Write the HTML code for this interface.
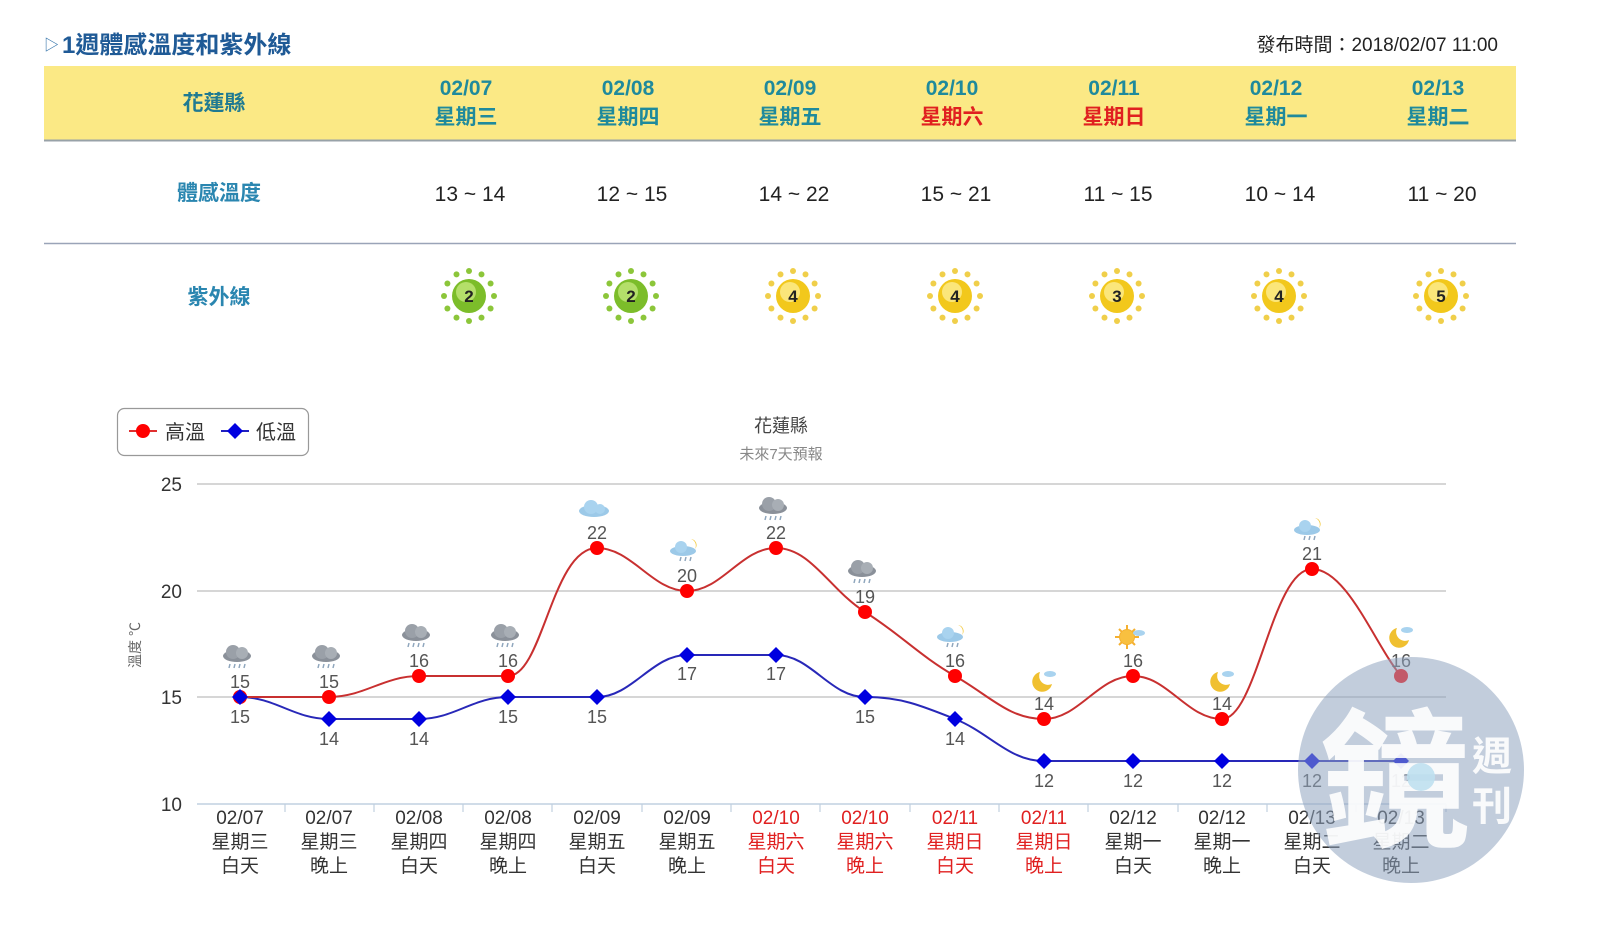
<!DOCTYPE html>
<html><head><meta charset="utf-8">
<style>
html,body{margin:0;padding:0;background:#fff;}
body{width:1600px;height:929px;overflow:hidden;font-family:"Liberation Sans","Noto Sans CJK TC",sans-serif;}
</style></head>
<body>
<svg width="1600" height="929" viewBox="0 0 1600 929" xmlns="http://www.w3.org/2000/svg" font-family="Liberation Sans, Noto Sans CJK TC, sans-serif">
<defs>
  <g id="rays">
    <circle cx="0" cy="-25" r="3"/><circle cx="12.5" cy="-21.6" r="3"/><circle cx="21.6" cy="-12.5" r="3"/>
    <circle cx="25" cy="0" r="3"/><circle cx="21.6" cy="12.5" r="3"/><circle cx="12.5" cy="21.6" r="3"/>
    <circle cx="0" cy="25" r="3"/><circle cx="-12.5" cy="21.6" r="3"/><circle cx="-21.6" cy="12.5" r="3"/>
    <circle cx="-25" cy="0" r="3"/><circle cx="-21.6" cy="-12.5" r="3"/><circle cx="-12.5" cy="-21.6" r="3"/>
  </g>
  <g id="rain">
    <ellipse cx="0" cy="-2" rx="14" ry="6" fill="#8a9099"/>
    <circle cx="-4" cy="-6" r="7" fill="#9aa0a8"/><circle cx="5" cy="-5" r="6" fill="#a8aeb5"/>
    <g stroke="#8fa6bd" stroke-width="1.5"><line x1="-7" y1="6" x2="-8" y2="10"/><line x1="-2" y1="6" x2="-3" y2="10"/><line x1="3" y1="6" x2="2" y2="10"/><line x1="8" y1="6" x2="7" y2="10"/></g>
  </g>
  <g id="cloud">
    <ellipse cx="0" cy="0" rx="15" ry="6" fill="#9cc9e8"/>
    <circle cx="-3" cy="-4" r="7" fill="#a9d3ef"/><circle cx="6" cy="-2" r="5" fill="#a9d3ef"/>
  </g>
  <g id="cloudrain">
    <ellipse cx="-2" cy="0" rx="13" ry="5" fill="#9cc9e8"/>
    <circle cx="-4" cy="-4" r="6" fill="#a9d3ef"/><path d="M6 -12 a6 6 0 0 1 4 10 a7 7 0 0 0 -4 -10z" fill="#f3c83a"/>
    <g stroke="#8fa6bd" stroke-width="1.5"><line x1="-4" y1="6" x2="-5" y2="10"/><line x1="1" y1="6" x2="0" y2="10"/><line x1="6" y1="6" x2="5" y2="10"/></g>
  </g>
  <g id="moon">
    <path d="M-4 -10 a10 10 0 1 0 12 12 a9 9 0 0 1 -12 -12z" fill="#f0c030"/>
    <ellipse cx="6" cy="-8" rx="6" ry="3" fill="#a9d3ef"/>
  </g>
  <g id="suncloud">
    <circle cx="-3" cy="0" r="8" fill="#f4b030"/>
    <g stroke="#f4b030" stroke-width="2"><line x1="-3" y1="-12" x2="-3" y2="12"/><line x1="-15" y1="0" x2="9" y2="0"/><line x1="-11" y1="-8" x2="5" y2="8"/><line x1="-11" y1="8" x2="5" y2="-8"/></g>
    <circle cx="-3" cy="0" r="7" fill="#f8c040"/>
    <ellipse cx="9" cy="-4" rx="6" ry="3" fill="#a9d3ef"/>
  </g>
</defs>

<!-- Header -->
<text x="44" y="50" font-size="15" fill="#2e6fa7">▷</text>
<text x="62" y="53" font-size="24" font-weight="bold" fill="#1f5a96">1週體感溫度和紫外線</text>
<text x="1498" y="51" font-size="19" fill="#222" text-anchor="end">發布時間：2018/02/07 11:00</text>

<!-- Table -->
<rect x="44" y="66" width="1472" height="74" fill="#fbe985"/>
<line x1="44" y1="140.5" x2="1516" y2="140.5" stroke="#98a2a8" stroke-width="2"/>
<line x1="44" y1="243.5" x2="1516" y2="243.5" stroke="#9aa4b8" stroke-width="1.5"/>
<g font-weight="bold" text-anchor="middle" font-size="21">
  <text x="214" y="110" fill="#1f7a92">花蓮縣</text>
  <g fill="#1f8a9c">
    <text x="466" y="95">02/07</text><text x="466" y="124">星期三</text>
    <text x="628" y="95">02/08</text><text x="628" y="124">星期四</text>
    <text x="790" y="95">02/09</text><text x="790" y="124">星期五</text>
    <text x="1276" y="95">02/12</text><text x="1276" y="124">星期一</text>
    <text x="1438" y="95">02/13</text><text x="1438" y="124">星期二</text>
  </g>
  <g>
    <text x="952" y="95" fill="#1f8a9c">02/10</text><text x="952" y="124" fill="#e02020">星期六</text>
    <text x="1114" y="95" fill="#1f8a9c">02/11</text><text x="1114" y="124" fill="#e02020">星期日</text>
  </g>
  <text x="219" y="200" fill="#2a86b0">體感溫度</text>
  <text x="219" y="304" fill="#2a86b0">紫外線</text>
</g>
<g font-size="21" fill="#222" text-anchor="middle">
  <text x="470" y="201">13 ~ 14</text><text x="632" y="201">12 ~ 15</text><text x="794" y="201">14 ~ 22</text>
  <text x="956" y="201">15 ~ 21</text><text x="1118" y="201">11 ~ 15</text><text x="1280" y="201">10 ~ 14</text>
  <text x="1442" y="201">11 ~ 20</text>
</g>
<!-- UV icons -->
<g font-weight="bold" font-size="17" text-anchor="middle" fill="#222">
  <g transform="translate(469,296)"><use href="#rays" fill="#8cc63a"/><circle r="17" fill="#7cbd2a"/><circle cx="-3" cy="-4" r="10" fill="#b4df6a"/><text y="6">2</text></g>
  <g transform="translate(631,296)"><use href="#rays" fill="#8cc63a"/><circle r="17" fill="#7cbd2a"/><circle cx="-3" cy="-4" r="10" fill="#b4df6a"/><text y="6">2</text></g>
  <g transform="translate(793,296)"><use href="#rays" fill="#f0cf4a"/><circle r="17" fill="#f2c81c"/><circle cx="-3" cy="-4" r="10" fill="#fbe67a"/><text y="6">4</text></g>
  <g transform="translate(955,296)"><use href="#rays" fill="#f0cf4a"/><circle r="17" fill="#f2c81c"/><circle cx="-3" cy="-4" r="10" fill="#fbe67a"/><text y="6">4</text></g>
  <g transform="translate(1117,296)"><use href="#rays" fill="#f0cf4a"/><circle r="17" fill="#f2c81c"/><circle cx="-3" cy="-4" r="10" fill="#fbe67a"/><text y="6">3</text></g>
  <g transform="translate(1279,296)"><use href="#rays" fill="#f0cf4a"/><circle r="17" fill="#f2c81c"/><circle cx="-3" cy="-4" r="10" fill="#fbe67a"/><text y="6">4</text></g>
  <g transform="translate(1441,296)"><use href="#rays" fill="#f0cf4a"/><circle r="17" fill="#f2c81c"/><circle cx="-3" cy="-4" r="10" fill="#fbe67a"/><text y="6">5</text></g>
</g>

<!-- Chart -->
<rect x="117.5" y="408.5" width="191" height="47" rx="7" fill="#fff" stroke="#999" stroke-width="1.2"/>
<line x1="129" y1="431" x2="157" y2="431" stroke="#e03030" stroke-width="2"/><circle cx="143" cy="431" r="7" fill="#f00"/>
<text x="165" y="439" font-size="20" fill="#333">高溫</text>
<line x1="221" y1="431" x2="249" y2="431" stroke="#2020c0" stroke-width="2"/><path d="M235 423 L243 431 L235 439 L227 431Z" fill="#0000e0"/>
<text x="256" y="439" font-size="20" fill="#333">低溫</text>

<text x="781" y="432" font-size="18" fill="#444" text-anchor="middle">花蓮縣</text>
<text x="781" y="459" font-size="15" fill="#888" text-anchor="middle">未來7天預報</text>

<g stroke="#c8c8c8" stroke-width="1.5">
  <line x1="197" y1="484" x2="1446" y2="484"/>
  <line x1="197" y1="591" x2="1446" y2="591"/>
  <line x1="197" y1="697" x2="1446" y2="697"/>
</g>
<line x1="197" y1="804" x2="1446" y2="804" stroke="#c0d0e0" stroke-width="1.5"/>
<g stroke="#c0d0e0" stroke-width="1.2">
  <line x1="285" y1="804" x2="285" y2="812"/><line x1="374" y1="804" x2="374" y2="812"/><line x1="463" y1="804" x2="463" y2="812"/>
  <line x1="552" y1="804" x2="552" y2="812"/><line x1="642" y1="804" x2="642" y2="812"/><line x1="731" y1="804" x2="731" y2="812"/>
  <line x1="820" y1="804" x2="820" y2="812"/><line x1="910" y1="804" x2="910" y2="812"/><line x1="999" y1="804" x2="999" y2="812"/>
  <line x1="1088" y1="804" x2="1088" y2="812"/><line x1="1178" y1="804" x2="1178" y2="812"/><line x1="1267" y1="804" x2="1267" y2="812"/>
  <line x1="1356" y1="804" x2="1356" y2="812"/><line x1="1446" y1="804" x2="1446" y2="812"/>
</g>
<g font-size="19" fill="#333" text-anchor="end">
  <text x="182" y="491">25</text><text x="182" y="598">20</text><text x="182" y="704">15</text><text x="182" y="811">10</text>
</g>
<text transform="translate(140,645) rotate(-90)" font-size="14" fill="#666" text-anchor="middle">溫度 ℃</text>

<!-- Low series -->
<path d="M240 697 C275 697,294 719,329 719 C364 719,384 719,419 719 C454 719,473 697,508 697 C543 697,562 697,597 697 C632 697,652 655,687 655 C722 655,741 655,776 655 C811 655,830 697,865 697 C900 697,920 705,955 719 C990 733,1009 761,1044 761 C1079 761,1098 761,1133 761 C1168 761,1187 761,1222 761 C1257 761,1277 761,1312 761 C1347 761,1366 761,1401 761" fill="none" stroke="#2828b8" stroke-width="2"/>
<!-- High series -->
<path d="M240 697 C275 697,294 697,329 697 C364 697,384 676,419 676 C454 676,473 676,508 676 C543 676,552 548,597 548 C632 548,652 591,687 591 C722 591,741 548,776 548 C811 548,830 590,865 612 C900 634,920 656,955 676 C990 696,1009 719,1044 719 C1079 719,1098 676,1133 676 C1168 676,1187 719,1222 719 C1257 719,1272 569,1312 569 C1347 569,1375 645,1401 676" fill="none" stroke="#c83030" stroke-width="2"/>

<g fill="#f00">
  <circle cx="240" cy="697" r="7"/><circle cx="329" cy="697" r="7"/><circle cx="419" cy="676" r="7"/><circle cx="508" cy="676" r="7"/>
  <circle cx="597" cy="548" r="7"/><circle cx="687" cy="591" r="7"/><circle cx="776" cy="548" r="7"/><circle cx="865" cy="612" r="7"/>
  <circle cx="955" cy="676" r="7"/><circle cx="1044" cy="719" r="7"/><circle cx="1133" cy="676" r="7"/><circle cx="1222" cy="719" r="7"/>
  <circle cx="1312" cy="569" r="7"/><circle cx="1401" cy="676" r="7"/>
</g>
<g fill="#0000e0">
  <path d="M240 689l8 8-8 8-8-8z"/><path d="M329 711l8 8-8 8-8-8z"/><path d="M419 711l8 8-8 8-8-8z"/><path d="M508 689l8 8-8 8-8-8z"/>
  <path d="M597 689l8 8-8 8-8-8z"/><path d="M687 647l8 8-8 8-8-8z"/><path d="M776 647l8 8-8 8-8-8z"/><path d="M865 689l8 8-8 8-8-8z"/>
  <path d="M955 711l8 8-8 8-8-8z"/><path d="M1044 753l8 8-8 8-8-8z"/><path d="M1133 753l8 8-8 8-8-8z"/><path d="M1222 753l8 8-8 8-8-8z"/>
  <path d="M1312 753l8 8-8 8-8-8z"/><path d="M1401 753l8 8-8 8-8-8z"/>
</g>
<g font-size="18" fill="#555" text-anchor="middle">
  <text x="240" y="688">15</text><text x="329" y="688">15</text><text x="419" y="667">16</text><text x="508" y="667">16</text>
  <text x="597" y="539">22</text><text x="687" y="582">20</text><text x="776" y="539">22</text><text x="865" y="603">19</text>
  <text x="955" y="667">16</text><text x="1044" y="710">14</text><text x="1133" y="667">16</text><text x="1222" y="710">14</text>
  <text x="1312" y="560">21</text><text x="1401" y="667">16</text>
  <text x="240" y="723">15</text><text x="329" y="745">14</text><text x="419" y="745">14</text><text x="508" y="723">15</text>
  <text x="597" y="723">15</text><text x="687" y="680">17</text><text x="776" y="680">17</text><text x="865" y="723">15</text>
  <text x="955" y="745">14</text><text x="1044" y="787">12</text><text x="1133" y="787">12</text><text x="1222" y="787">12</text>
  <text x="1312" y="787">12</text><text x="1401" y="787">12</text>
</g>
<!-- weather icons -->
<use href="#rain" x="237" y="658"/><use href="#rain" x="326" y="658"/><use href="#rain" x="416" y="637"/><use href="#rain" x="505" y="637"/>
<use href="#cloud" x="594" y="511"/><use href="#cloudrain" x="685" y="551"/><use href="#rain" x="773" y="510"/><use href="#rain" x="862" y="573"/>
<use href="#cloudrain" x="952" y="637"/><use href="#moon" x="1044" y="682"/><use href="#suncloud" x="1130" y="637"/><use href="#moon" x="1222" y="682"/>
<use href="#cloudrain" x="1309" y="530"/><use href="#moon" x="1401" y="638"/>

<!-- x labels -->
<g font-size="19" fill="#333" text-anchor="middle">
  <text x="240" y="824">02/07</text><text x="240" y="848">星期三</text><text x="240" y="872">白天</text>
  <text x="329" y="824">02/07</text><text x="329" y="848">星期三</text><text x="329" y="872">晚上</text>
  <text x="419" y="824">02/08</text><text x="419" y="848">星期四</text><text x="419" y="872">白天</text>
  <text x="508" y="824">02/08</text><text x="508" y="848">星期四</text><text x="508" y="872">晚上</text>
  <text x="597" y="824">02/09</text><text x="597" y="848">星期五</text><text x="597" y="872">白天</text>
  <text x="687" y="824">02/09</text><text x="687" y="848">星期五</text><text x="687" y="872">晚上</text>
  <g fill="#e02020">
  <text x="776" y="824">02/10</text><text x="776" y="848">星期六</text><text x="776" y="872">白天</text>
  <text x="865" y="824">02/10</text><text x="865" y="848">星期六</text><text x="865" y="872">晚上</text>
  <text x="955" y="824">02/11</text><text x="955" y="848">星期日</text><text x="955" y="872">白天</text>
  <text x="1044" y="824">02/11</text><text x="1044" y="848">星期日</text><text x="1044" y="872">晚上</text>
  </g>
  <text x="1133" y="824">02/12</text><text x="1133" y="848">星期一</text><text x="1133" y="872">白天</text>
  <text x="1222" y="824">02/12</text><text x="1222" y="848">星期一</text><text x="1222" y="872">晚上</text>
  <text x="1312" y="824">02/13</text><text x="1312" y="848">星期二</text><text x="1312" y="872">白天</text>
  <text x="1401" y="824">02/13</text><text x="1401" y="848">星期二</text><text x="1401" y="872">晚上</text>
</g>

<!-- watermark -->
<g>
  <circle cx="1411" cy="770" r="113" fill="#8fa4c0" opacity="0.55"/>
  <text x="1395" y="835" font-size="150" font-weight="bold" fill="#fff" opacity="0.9" text-anchor="middle">鏡</text>
  <text x="1492" y="770" font-size="40" font-weight="bold" fill="#fff" opacity="0.9" text-anchor="middle">週</text>
  <text x="1492" y="820" font-size="40" font-weight="bold" fill="#fff" opacity="0.9" text-anchor="middle">刊</text>
  <circle cx="1421" cy="777" r="14" fill="#bfe0f0" opacity="0.9"/>
</g>
</svg>
</body></html>
